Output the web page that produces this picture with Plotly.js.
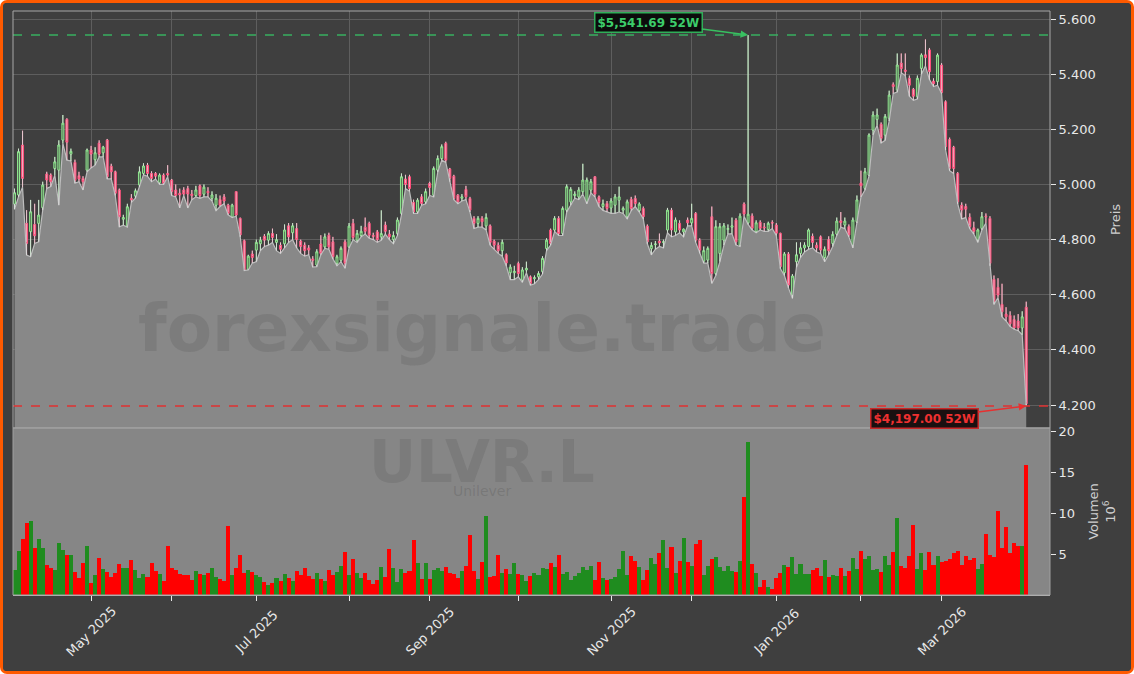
<!DOCTYPE html>
<html><head><meta charset="utf-8">
<script src="https://cdn.plot.ly/plotly-3.0.1.min.js"></script>
<style>
html,body{margin:0;padding:0;background:#ffffff;}
#wrap{position:absolute;left:0;top:0;width:1134px;height:674px;box-sizing:border-box;border:3px solid #ff5a00;border-radius:7px;background:#3f3f3f;overflow:hidden;}
#chart{width:1128px;height:668px;}
</style></head><body><div id="wrap"><div id="chart"></div></div>
<script>
// ---- data (GBX, daily, ULVR.L) ----
const openP = [4929,4962,5143,4859,4829,4855,4859,4916,5038,5034,5058,5052,5161,5236,5110,5080,5032,5022,5052,5125,
5090,5150,5115,5161,5066,5046,4980,4874,4847,4950,4958,4998,5040,5070,5040,5040,5006,5034,5040,5016,
4980,4968,4980,4985,4965,4960,4995,4965,4975,4950,4925,4945,4955,4925,4882,4974,4877,4796,4692,4748,
4762,4785,4812,4798,4822,4790,4780,4785,4850,4825,4840,4795,4780,4770,4730,4708,4784,4774,4816,4792,
4714,4725,4792,4774,4859,4798,4815,4845,4859,4815,4828,4810,4853,4820,4800,4822,4895,5020,5028,4935,
4901,4955,4937,5004,4961,5052,5094,5149,5056,5030,4961,4950,4982,4949,4877,4859,4877,4850,4850,4795,
4780,4760,4745,4680,4680,4713,4653,4690,4665,4658,4665,4684,4768,4835,4835,4877,4822,4907,4937,4960,
4955,4974,4937,4980,5028,4955,4920,4931,4915,4925,4943,4907,4883,4946,4949,4905,4913,4849,4767,4782,
4795,4790,4835,4907,4828,4859,4828,4871,4861,4895,4798,4722,4726,4883,4677,4750,4798,4837,4845,4871,
4780,4929,4861,4886,4829,4863,4846,4837,4862,4853,4823,4680,4748,4599,4720,4750,4770,4775,4812,4780,
4810,4735,4800,4786,4820,4868,4853,4847,4780,4865,5005,4986,5034,5197,5236,5218,5179,5240,5362,5343,
5440,5415,5385,5345,5318,5421,5470,5488,5375,5373,5433,5300,5163,5135,5040,4925,4920,4881,4843,4799,
4841,4885,4877,4656,4627,4565,4530,4525,4510,4505,4480,4555];
const highP = [4985,5130,5195,4907,4944,4930,4944,5010,5046,5040,5100,5160,5252,5240,5130,5090,5046,5030,5130,5140,
5135,5160,5140,5165,5075,5050,4985,4890,4930,4965,4985,5065,5077,5078,5048,5045,5040,5040,5070,5020,
5000,4985,4990,4995,4980,4995,5000,5000,4990,4975,4965,4960,4965,4930,4930,4975,4880,4800,4745,4760,
4800,4810,4820,4830,4840,4820,4790,4855,4860,4860,4860,4800,4790,4780,4740,4765,4816,4822,4825,4810,
4745,4775,4800,4860,4875,4835,4850,4880,4865,4825,4835,4906,4865,4835,4830,4880,5040,5035,5035,4945,
4950,4965,4985,5010,5065,5105,5145,5155,5060,5035,4965,4965,4995,4955,4885,4885,4885,4895,4855,4800,
4790,4800,4750,4710,4705,4720,4700,4720,4670,4670,4685,4740,4805,4840,4885,4885,4920,5000,4990,4975,
4990,5075,5025,5020,5030,4960,4945,4940,4950,4965,4992,4920,4945,4955,4960,4935,4920,4855,4790,4795,
4822,4800,4915,4915,4880,4870,4840,4880,4930,4900,4805,4775,4775,4920,4870,4860,4860,4855,4880,4878,
4895,4935,5541.69,4895,4870,4870,4860,4865,4870,4860,4825,4755,4755,4675,4790,4790,4790,4840,4822,4790,
4815,4775,4812,4830,4880,4900,4880,4855,4880,4960,5050,5060,5185,5265,5275,5225,5255,5340,5370,5475,
5475,5475,5395,5350,5395,5475,5526,5495,5385,5475,5440,5305,5170,5140,5045,4935,4930,4895,4865,4840,
4900,4895,4885,4670,4660,4640,4555,4540,4525,4530,4540,4575];
const lowP = [4910,4955,4990,4744,4738,4786,4792,4907,4986,4992,5034,4925,5149,5088,5085,5005,5010,4980,5046,5060,
5070,5100,5100,5020,5020,4960,4846,4852,4845,4935,4950,4990,5035,5030,5010,5020,5000,5000,5028,4960,
4955,4915,4960,4915,4945,4955,4950,4955,4955,4940,4905,4920,4930,4890,4880,4885,4810,4688,4690,4715,
4720,4760,4775,4780,4790,4760,4750,4770,4790,4800,4770,4750,4740,4745,4700,4702,4745,4768,4765,4730,
4705,4720,4696,4770,4800,4790,4810,4820,4805,4800,4790,4798,4820,4800,4785,4815,4890,4985,4975,4895,
4895,4925,4930,4960,4955,5045,5088,5080,5010,4945,4930,4940,4945,4900,4840,4845,4845,4835,4780,4765,
4750,4740,4705,4655,4655,4665,4645,4680,4635,4640,4655,4675,4760,4780,4830,4815,4815,4900,4925,4950,
4945,4965,4930,4970,4955,4920,4906,4900,4895,4895,4900,4895,4875,4905,4920,4900,4875,4785,4745,4765,
4775,4770,4825,4810,4815,4825,4810,4850,4850,4790,4750,4715,4715,4641,4670,4720,4780,4820,4822,4780,
4775,4885,4855,4835,4825,4835,4830,4830,4840,4815,4695,4670,4625,4587,4700,4735,4755,4765,4770,4755,
4750,4720,4745,4775,4815,4845,4840,4810,4770,4860,4955,4980,5030,5180,5215,5150,5160,5230,5330,5335,
5405,5395,5320,5305,5310,5400,5430,5380,5355,5360,5330,5125,5050,5040,4930,4875,4880,4840,4820,4790,
4835,4860,4705,4565,4590,4520,4505,4485,4475,4470,4455,4197];
const closeP = [4970,5119,5022,4786,4901,4814,4889,4998,5016,5010,5082,5143,5222,5153,5120,5015,5020,5010,5125,5110,
5115,5110,5135,5028,5046,4968,4883,4880,4919,4944,4977,5046,5067,5040,5022,5030,5034,5004,5034,4974,
4960,4962,4965,4965,4960,4980,4960,4990,4970,4962,4950,4925,4940,4895,4925,4889,4817,4690,4740,4735,
4790,4798,4798,4822,4808,4800,4765,4835,4810,4850,4800,4775,4760,4762,4725,4756,4750,4810,4774,4738,
4738,4768,4714,4849,4808,4822,4830,4830,4816,4812,4800,4822,4830,4810,4815,4871,5028,5000,4985,4900,
4943,4931,4974,4989,5058,5094,5137,5088,5022,4949,4937,4955,4955,4907,4859,4877,4865,4880,4790,4780,
4760,4790,4715,4700,4685,4677,4690,4696,4641,4662,4677,4732,4798,4786,4877,4822,4913,4992,4982,4965,
4980,5016,5016,5010,4965,4935,4930,4913,4940,4955,4955,4913,4937,4913,4931,4929,4883,4792,4779,4784,
4788,4792,4907,4835,4871,4835,4838,4861,4877,4798,4762,4760,4768,4677,4847,4847,4850,4840,4850,4792,
4885,4893,4892,4841,4861,4841,4843,4859,4860,4823,4702,4748,4635,4668,4745,4770,4780,4835,4790,4770,
4762,4765,4760,4819,4867,4862,4867,4817,4871,4944,4995,5046,5179,5252,5252,5167,5246,5324,5355,5433,
5420,5410,5360,5320,5385,5469,5460,5409,5365,5469,5333,5137,5058,5058,4937,4907,4910,4847,4830,4835,
4883,4883,4714,4575,4599,4538,4520,4495,4480,4480,4520,4205];
// volume in millions of shares
const volumeM = [3.05,5.32,6.83,8.78,9.02,5.73,6.83,5.73,3.70,3.33,3.05,6.30,5.49,4.88,4.88,2.8,2.07,3.9,5.97,1.46,
2.43,4.51,3.17,2.8,2.19,2.68,3.78,3.29,3.29,4.27,3.05,2.07,2.56,2.19,3.9,2.92,2.56,1.7,5.97,3.29,
3.05,2.56,2.43,2.43,1.83,2.92,2.56,2.43,2.68,3.29,2.19,1.95,1.7,8.41,2.43,3.29,4.88,2.68,3.05,2.8,
2.43,2.19,1.58,1.22,1.46,2.07,1.7,2.56,2.07,1.7,2.92,
2.43,3.29,2.31,1.95,2.68,1.95,1.7,3.05,2.43,2.8,3.53,5.24,2.43,4.39,2.68,2.07,2.68,1.83,1.34,1.83,
3.41,2.19,5.61,3.29,1.58,3.17,2.68,2.92,6.7,3.9,1.95,3.9,1.95,3.05,3.29,2.92,3.41,2.68,2.56,2.07,
2.92,3.53,7.31,2.92,1.95,4.02,9.63,2.19,2.31,4.88,2.68,3.17,2.56,3.9,2.56,2.43,1.7,2.31,2.68,2.43,
3.29,3.17,3.9,3.41,4.88,2.56,2.8,1.83,2.35,2.68,3.41,3.05,3.53,1.83,4.02,
2.07,1.83,1.95,2.19,3.17,5.36,2.43,4.75,4.14,3.41,1.83,3.05,4.51,3.78,5.12,6.7,3.29,5.85,2.68,4.14,
6.95,4.02,3.53,6.22,6.7,2.43,3.53,4.39,4.63,3.41,2.92,3.53,2.92,2.8,4.14,11.95,18.65,3.78,2.68,0.97,
1.83,0.97,0.73,2.07,2.68,3.66,3.41,4.63,2.56,3.78,2.56,2.56,3.05,3.29,2.31,4.27,2.19,2.43,2.31,
3.29,2.31,2.92,4.51,3.17,5.36,4.39,4.75,3.05,3.17,2.8,4.75,3.66,5.24,9.39,3.53,3.29,4.75,8.53,3.17,
5.12,3.05,5.24,3.66,4.75,4.02,4.14,4.39,5.12,5.36,3.66,4.75,4.27,4.51,3.17,3.78,7.44,4.88,4.63,10.24,
5.73,8.29,5.12,6.34,5.97,5.97,15.85];
const ukHolidays = ['2025-04-18','2025-04-21','2025-05-05','2025-05-26','2025-08-25','2025-12-25','2025-12-26','2026-01-01'];
const firstDay = '2025-04-02';
const tickDates = ['2025-05-01','2025-06-02','2025-07-01','2025-08-01','2025-09-01','2025-10-01','2025-11-03','2025-12-01','2026-01-02','2026-02-02','2026-03-02'];
const tickLabels = ['May 2025','','Jul 2025','','Sep 2025','','Nov 2025','','Jan 2026','','Mar 2026'];
const priceTicks = [4200,4400,4600,4800,5000,5200,5400,5600];
const volTicks = [5,10,15,20];
const symbol = 'ULVR.L', company = 'Unilever', watermark = 'forexsignale.trade';

// ---- trading-day calendar ----
const dates = [];
{
  const d = new Date(firstDay + 'T00:00:00Z');
  while (dates.length < closeP.length) {
    const s = d.toISOString().slice(0,10), wd = d.getUTCDay();
    if (wd !== 0 && wd !== 6 && !ukHolidays.includes(s)) dates.push(s);
    d.setUTCDate(d.getUTCDate()+1);
  }
}
const hi52 = Math.max(...highP), lo52 = Math.min(...lowP);
const hiIdx = highP.indexOf(hi52), loIdx = lowP.indexOf(lo52);
const fmt = v => '$' + v.toLocaleString('en-US',{minimumFractionDigits:2,maximumFractionDigits:2}) + ' 52W';
const volColors = closeP.map((c,i)=> c >= openP[i] ? '#1f8c1f' : '#ff0000');
const xRange = [-0.37, 256.9];

// whitish wick segments outside the candle bodies
const wx = [], wy = [];
dates.forEach((d,i)=>{
  const top = Math.max(openP[i], closeP[i]), bot = Math.min(openP[i], closeP[i]);
  wx.push(d, d, d, d, d, d);
  wy.push(highP[i], top, null, bot, lowP[i], null);
});

const traces = [
  {type:'scatter', mode:'lines', x:dates, y:lowP, xaxis:'x', yaxis:'y',
   line:{color:'#bdbdbd', width:1.2}, fill:'tozeroy', fillcolor:'#888888', hoverinfo:'skip'},
  {type:'candlestick', x:dates, open:openP, high:highP, low:lowP, close:closeP, xaxis:'x', yaxis:'y',
   increasing:{line:{color:'#8fe68f', width:1}, fillcolor:'#587458'},
   decreasing:{line:{color:'#ff4f7b', width:1}, fillcolor:'#f0b0c0'}, whiskerwidth:0},
  {type:'scatter', mode:'lines', x:wx, y:wy, xaxis:'x', yaxis:'y', connectgaps:false,
   line:{color:'rgba(225,225,225,0.85)', width:1}, hoverinfo:'skip'},
  {type:'bar', x:dates, y:volumeM, xaxis:'x2', yaxis:'y2', marker:{color:volColors, line:{width:0}}}
];

const tickAnnots = tickDates.map((d,i)=>({x:d, xref:'x2', yref:'paper', y:-0.062, text:tickLabels[i],
  textangle:-45, xanchor:'center', yanchor:'middle', showarrow:false, font:{size:13, color:'#e8e8e8'}}))
  .filter(a=>a.text !== '');

const layout = {
  width:1128, height:668,
  paper_bgcolor:'#3f3f3f', plot_bgcolor:'#3f3f3f',
  margin:{l:10, r:81, t:8, b:76},
  showlegend:false, hovermode:false, bargap:0, separators:',.',
  font:{family:'DejaVu Sans', color:'#e8e8e8', size:13},
  xaxis:{type:'category', anchor:'y', domain:[0,1], range:xRange, tickvals:tickDates,
    showticklabels:false, ticks:'', showgrid:true, gridcolor:'#5e5e5e', gridwidth:1, zeroline:false, showline:false,
    rangeslider:{visible:false}},
  xaxis2:{type:'category', anchor:'y2', domain:[0,1], matches:'x', range:xRange, tickvals:tickDates,
    showticklabels:false, ticks:'outside', ticklen:5, tickcolor:'#e8e8e8', showgrid:false, zeroline:false,
    showline:true, linecolor:'#bdbdbd'},
  yaxis:{domain:[0.286,1], side:'right', anchor:'x', range:[4117,5629], tickvals:priceTicks, tickformat:',.0f',
    ticks:'outside', ticklen:5, tickcolor:'#e8e8e8', showgrid:true, gridcolor:'#5e5e5e', zeroline:false, showline:false,
    tickfont:{size:13, color:'#e8e8e8'},
    title:{text:'Preis', font:{size:13, color:'#cfcfcf'}, standoff:16}},
  yaxis2:{domain:[0,0.286], side:'right', anchor:'x2', range:[0,20.4], tickvals:volTicks,
    ticks:'outside', ticklen:5, tickcolor:'#e8e8e8', showgrid:false, zeroline:false, showline:false,
    tickfont:{size:13, color:'#e8e8e8'},
    title:{text:'Volumen<br>10<sup>6</sup>', font:{size:13, color:'#cfcfcf'}, standoff:14}},
  shapes:[
    {type:'rect', xref:'x2 domain', yref:'y2 domain', x0:0, x1:1, y0:0, y1:1, fillcolor:'#868686', line:{width:0}, layer:'below'},
    {type:'line', xref:'x domain', yref:'y', x0:0, x1:1, y0:hi52, y1:hi52, line:{color:'#38b060', width:1.5, dash:'dash'}},
    {type:'line', xref:'x domain', yref:'y', x0:0, x1:1, y0:lo52, y1:lo52, line:{color:'#e03030', width:1.5, dash:'dash'}},
    {type:'rect', xref:'x domain', yref:'y domain', x0:0, x1:1, y0:0, y1:1, line:{color:'#a8a8a8', width:1}, fillcolor:'rgba(0,0,0,0)'},
    {type:'rect', xref:'x2 domain', yref:'y2 domain', x0:0, x1:1, y0:0, y1:1, line:{color:'#a0a0a0', width:1}, fillcolor:'rgba(0,0,0,0)'}
  ],
  annotations:[
    {xref:'paper', yref:'paper', x:0.452, y:0.457, xanchor:'center', yanchor:'middle', text:'<b>'+watermark+'</b>', showarrow:false,
     font:{size:66, color:'rgba(60,60,60,0.14)', family:'DejaVu Sans'}},
    {xref:'paper', yref:'paper', x:0.452, y:0.228, xanchor:'center', yanchor:'middle', text:'<b>'+symbol+'</b>', showarrow:false,
     font:{size:58, color:'rgba(60,60,60,0.14)', family:'DejaVu Sans'}},
    {xref:'paper', yref:'paper', x:0.452, y:0.178, xanchor:'center', yanchor:'middle', text:company, showarrow:false,
     font:{size:14, color:'rgba(60,60,60,0.2)', family:'DejaVu Sans'}},
    {x:dates[hiIdx], y:hi52, xref:'x', yref:'y', text:'<b>'+fmt(hi52)+'</b>', showarrow:true,
     ax:-100, ay:-13, arrowhead:2, arrowsize:1, arrowwidth:1.5, arrowcolor:'#38c060',
     bgcolor:'#0c0c0c', bordercolor:'#2fae58', borderwidth:1.5, borderpad:2,
     font:{size:12, color:'#3ccc6a', family:'DejaVu Sans'}},
    {x:dates[loIdx], y:lo52, xref:'x', yref:'y', text:'<b>'+fmt(lo52)+'</b>', showarrow:true,
     ax:-102, ay:13, arrowhead:2, arrowsize:1, arrowwidth:1.5, arrowcolor:'#e83030',
     bgcolor:'#1a1010', bordercolor:'#c82828', borderwidth:1.5, borderpad:2,
     font:{size:12, color:'#f03030', family:'DejaVu Sans'}}
  ].concat(tickAnnots)
};

Plotly.newPlot('chart', traces, layout, {displayModeBar:false, staticPlot:true});
</script></body></html>
